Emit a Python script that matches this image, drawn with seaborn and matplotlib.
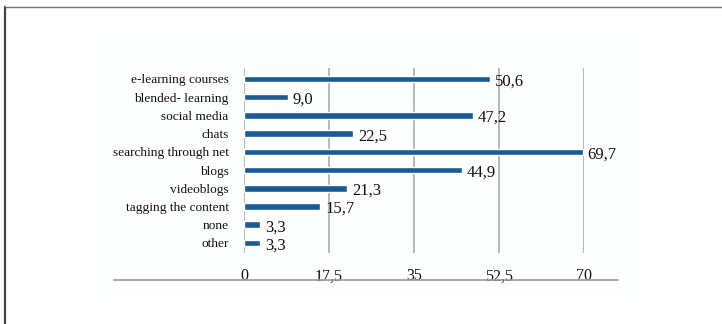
import matplotlib
matplotlib.use("Agg")
import matplotlib.pyplot as plt
import seaborn as sns
import pandas as pd
from matplotlib.patches import Rectangle
from matplotlib.lines import Line2D

categories = ["e-learning courses", "blended- learning", "social media", "chats",
              "searching through net", "blogs", "videoblogs", "tagging the content",
              "none", "other"]
values = [50.6, 9.0, 47.2, 22.5, 69.7, 44.9, 21.3, 15.7, 3.3, 3.3]
value_labels = ["50,6", "9,0", "47,2", "22,5", "69,7", "44,9", "21,3", "15,7", "3,3", "3,3"]
xticks = [0, 17.5, 35, 52.5, 70]
xtick_labels = ["0", "17,5", "35", "52,5", "70"]

df = pd.DataFrame({"category": categories, "value": values})

sns.set_theme(style="white")
plt.rcParams["font.family"] = ["Liberation Serif", "DejaVu Serif"]

W, H = 722, 324
fig = plt.figure(figsize=(W / 100, H / 100), dpi=100)
fig.patch.set_facecolor("white")

# faint chart-area background
fig.add_artist(Rectangle((95 / W, 1 - 298 / H), (642 - 95) / W, (298 - 40) / H,
                         transform=fig.transFigure, facecolor="#fdfefe", edgecolor="none", zorder=0))
# outer frame (top and left visible)
fig.add_artist(Line2D([4.5 / W, 4.5 / W], [0, 1 - 7 / H], transform=fig.transFigure,
                      color="#444444", lw=1.6))
fig.add_artist(Line2D([4.5 / W, 1], [1 - 7 / H, 1 - 7 / H], transform=fig.transFigure,
                      color="#777777", lw=1.0))
# bottom horizontal rule
fig.add_artist(Line2D([114 / W, 618 / W], [1 - 279.5 / H, 1 - 279.5 / H], transform=fig.transFigure,
                      color="#9a9a9a", lw=1.2))

left, right = 244 / W, 584 / W
top, bottom = 1 - 68 / H, 1 - 253 / H
ax = fig.add_axes([left, bottom, right - left, top - bottom])
ax.set_facecolor("none")

sns.barplot(data=df, x="value", y="category", orient="h", color="#1b5a94",
            width=0.36, ax=ax, zorder=3, saturation=1)

ax.set_xlim(0, 70)
ax.set_ylim(9.55, -0.6)
ax.set_xticks(xticks)
ax.set_xticklabels(xtick_labels, fontsize=11.5, color="#111111")
ax.tick_params(axis="x", length=0, pad=11)
ax.tick_params(axis="y", length=0, pad=11, labelsize=9.6, labelcolor="#111111")
ax.set_xlabel("")
ax.set_ylabel("")
for x in xticks:
    ax.axvline(x, color="#a4a4a4", lw=1.1, zorder=1)
for s in ax.spines.values():
    s.set_visible(False)

for i, (v, lab) in enumerate(zip(values, value_labels)):
    ax.text(v + 1.0, i + 0.14, lab, va="center", ha="left", fontsize=12, color="#111111")

fig.savefig("out.png", dpi=100)
